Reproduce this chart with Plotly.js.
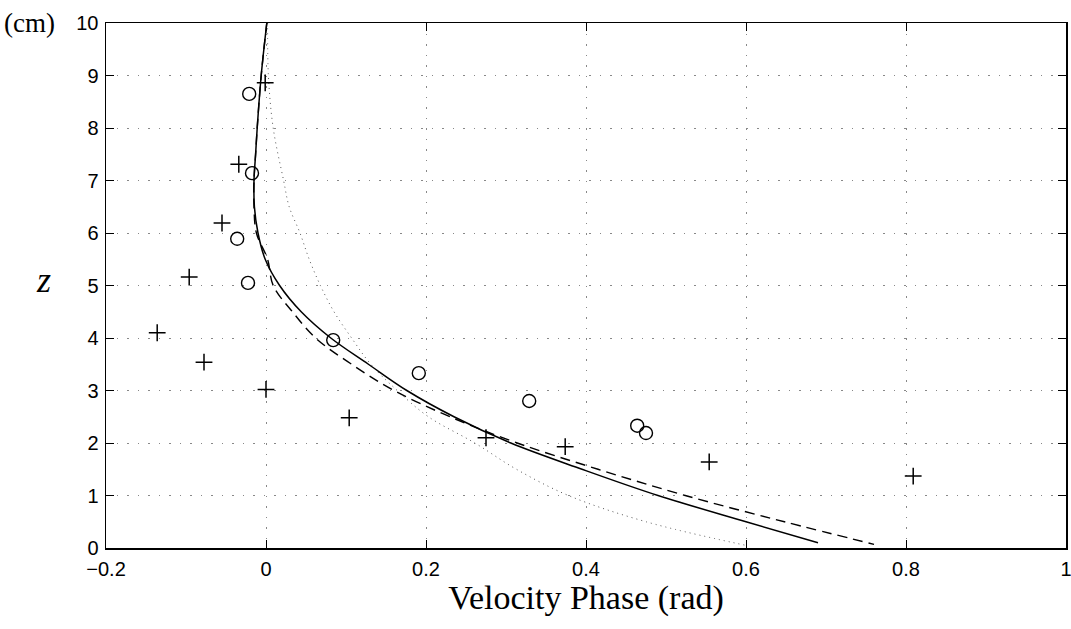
<!DOCTYPE html>
<html>
<head>
<meta charset="utf-8">
<script src="https://cdn.plot.ly/plotly-3.0.1.min.js"></script>
<style>html,body{margin:0;padding:0;background:#fff;}#chart{width:1071px;height:629px;}</style>
</head>
<body>
<div id="chart"></div>
<script>
// Measured data: circles
const circleX = [-0.021, -0.0175, -0.036, -0.0225, 0.084, 0.191, 0.329, 0.464, 0.475];
const circleZ = [8.65, 7.14, 5.89, 5.05, 3.96, 3.33, 2.80, 2.33, 2.19];
// Measured data: plus signs
const plusX = [-0.001, -0.034, -0.055, -0.096, -0.136, -0.0775, 0.000, 0.104, 0.275, 0.374, 0.554, 0.809];
const plusZ = [8.86, 7.31, 6.19, 5.16, 4.10, 3.54, 3.02, 2.48, 2.10, 1.93, 1.64, 1.37];
// Model curves
const solidZ = [10, 9, 8, 7.5, 7, 6.5, 6, 5.5, 5, 4.5, 4, 3.5, 3, 2.5, 2, 1.5, 1, 0.5, 0.1];
const solidX = [0.001, -0.006, -0.011, -0.013, -0.015, -0.0145, -0.010, -0.001, 0.017, 0.044, 0.081, 0.128, 0.176, 0.235, 0.306, 0.395, 0.49, 0.60, 0.69];
const dashZ = [10, 9, 8, 7.5, 7, 6.5, 6, 5.5, 5, 4.5, 4, 3.5, 3, 2.5, 2, 1.5, 1, 0.5, 0.07];
const dashX = [0.001, -0.006, -0.011, -0.013, -0.015, -0.015, -0.012, 0.002, 0.009, 0.033, 0.062, 0.107, 0.16, 0.23, 0.314, 0.415, 0.524, 0.648, 0.76];
const dotZ = [10, 9, 8, 7, 6.5, 6, 5.5, 5, 4.5, 4, 3.5, 3, 2.5, 2, 1.5, 1, 0.5, 0.05];
const dotX = [0.002, 0.003, 0.009, 0.022, 0.029, 0.0425, 0.054, 0.068, 0.085, 0.107, 0.131, 0.164, 0.203, 0.261, 0.313, 0.378, 0.475, 0.60];
const xTicks = [-0.2, 0, 0.2, 0.4, 0.6, 0.8, 1];
const xTickText = ['\u22120.2', '0', '0.2', '0.4', '0.6', '0.8', '1'];
const yTicks = [0,1,2,3,4,5,6,7,8,9,10];

const traces = [
  {x: dotX, y: dotZ, mode: 'lines', line: {color: '#555', width: 1, dash: '1px,4px', shape: 'spline', smoothing: 1}, hoverinfo: 'skip'},
  {x: dashX, y: dashZ, mode: 'lines', line: {color: '#000', width: 1.4, dash: '10px,6px', shape: 'spline', smoothing: 1}, hoverinfo: 'skip'},
  {x: solidX, y: solidZ, mode: 'lines', line: {color: '#000', width: 1.5, shape: 'spline', smoothing: 1}, hoverinfo: 'skip'},
  {x: circleX, y: circleZ, mode: 'markers', marker: {symbol: 'circle-open', size: 13, color: '#000', line: {width: 1.4, color: '#000'}}},
  {x: plusX, y: plusZ, mode: 'markers', marker: {symbol: 'cross-thin-open', size: 12, color: '#000', line: {width: 1.5, color: '#000'}}}
];

const axisCommon = {
  showline: true, linecolor: '#000', linewidth: 1.5, mirror: 'ticks',
  ticks: 'inside', ticklen: 8, tickwidth: 1, tickcolor: '#000',
  showgrid: true, gridcolor: '#888', gridwidth: 1, griddash: '1.5px,9px',
  zeroline: false, ticklabeloverflow: 'allow',
  tickfont: {family: 'Liberation Sans, Arial, sans-serif', size: 20, color: '#000'}
};

const layout = {
  width: 1071, height: 629,
  margin: {l: 106, r: 5, t: 23, b: 81},
  paper_bgcolor: '#fff', plot_bgcolor: '#fff',
  showlegend: false,
  xaxis: Object.assign({}, axisCommon, {
    range: [-0.2, 1], tickvals: xTicks, ticktext: xTickText, ticklabelstandoff: 2,
    title: {text: 'Velocity Phase (rad)', font: {family: 'Liberation Serif, Times New Roman, serif', size: 34, color: '#000'}, standoff: 6}
  }),
  yaxis: Object.assign({}, axisCommon, {
    range: [0, 10], tickvals: yTicks, ticklabelstandoff: 2,
    title: {text: ''}
  }),
  annotations: [
    {xref: 'paper', yref: 'paper', x: 0, y: 0.5, xanchor: 'center', yanchor: 'middle', showarrow: false, xshift: -63,
     text: '<i>z</i>', font: {family: 'Liberation Serif, Times New Roman, serif', size: 36, color: '#000'}, yshift: 6},
    {xref: 'paper', yref: 'paper', x: 0, y: 1, xanchor: 'left', yanchor: 'middle', showarrow: false, xshift: -104,
     text: '(cm)', font: {family: 'Liberation Serif, Times New Roman, serif', size: 27, color: '#000'}}
  ]
};

Plotly.newPlot('chart', traces, layout, {displayModeBar: false, staticPlot: true});
</script>
</body>
</html>
